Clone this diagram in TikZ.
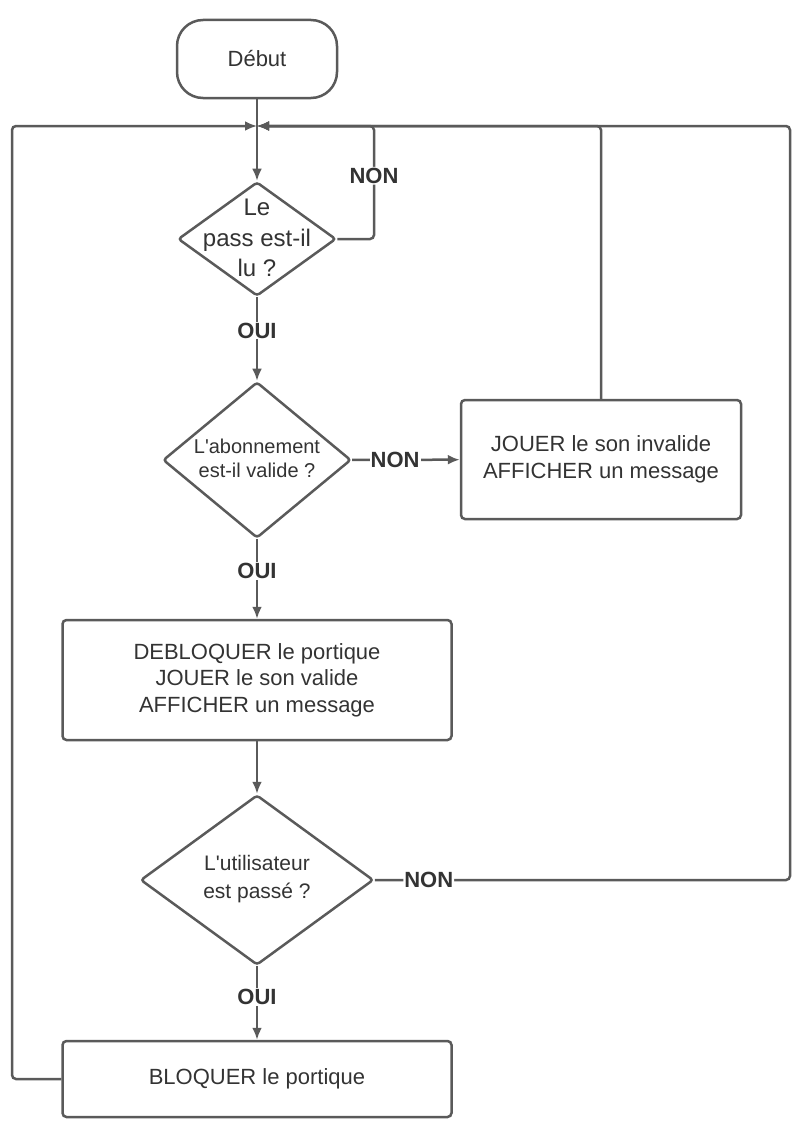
\documentclass[tikz,border=0pt]{standalone}
\usepackage{fontspec}
\setmainfont{Liberation Sans}
\usetikzlibrary{shapes.geometric, arrows.meta}
\definecolor{trait}{HTML}{5A5A5A}
\definecolor{texte}{HTML}{333333}
\begin{document}
\begin{tikzpicture}[x=1pt, y=-1pt, line width=2.5pt, color=trait, text=texte, >={Latex[length=12pt, width=10pt]},
    bloc/.style={draw, rounded corners=4pt, align=center, font=\fontsize{22}{26.5}\selectfont},
    debut/.style={bloc, rounded corners=26pt},
    test/.style={draw, diamond, inner sep=0pt, rounded corners=3pt},
    mots/.style={align=center, inner sep=0pt},
    choix/.style={fill=white, inner sep=1pt, font=\bfseries\fontsize{22}{26}\selectfont}]
        \useasboundingbox (0,0) rectangle (802,1140);

        \node[debut, minimum width=160, minimum height=78] (0) at (257,59) {Début};
        \coordinate (1) at (257,126);
        \node[test, minimum width=158, minimum height=114] (2) at (257,239) {};
        \node[mots, font=\fontsize{24}{30.5}\selectfont] (2t) at (257,238) {Le\\pass est-il\\lu ?};
        \node[test, minimum width=188, minimum height=156] (3) at (257,460) {};
        \node[mots, font=\fontsize{20}{24}\selectfont] (3t) at (257,458) {L\textquotesingle abonnement\\est-il valide ?};
        \node[bloc, minimum width=280, minimum height=119] (4) at (601,459.5) {JOUER le son invalide\\AFFICHER un message};
        \node[bloc, minimum width=389, minimum height=120] (5) at (257,680) {DEBLOQUER le portique\\JOUER le son valide\\AFFICHER un message};
        \node[test, minimum width=233, minimum height=170] (6) at (257,880) {};
        \node[mots, font=\fontsize{21}{28}\selectfont] (6t) at (257,879) {L\textquotesingle utilisateur\\est passé ?};
        \node[bloc, minimum width=389, minimum height=76] (8) at (257,1079) {BLOQUER le portique};

        \coordinate (l) at (12,126);
        \coordinate (r) at (790,126);
        \coordinate (n1) at (374,126);

        \draw[->] (0) -- (2);
        \draw[->] (2) -- node[choix, pos=0.4] {OUI} (3);
        \draw[->] (3) -- node[choix, pos=0.4] {NON} (4);
        \draw[->] (3) -- node[choix, pos=0.4] {OUI} (5);
        \draw[->] (5) -- (6);
        \draw[->] (6) -- node[choix, pos=0.42] {OUI} (8);
        \draw[->, rounded corners=4pt] (4.north) |- (1);
        \draw[->, rounded corners=4pt] (2.east) -| node[choix, pos=0.78] {NON} (n1) -- (1);
        \draw[->, rounded corners=4pt] (6.east) -| node[choix, pos=0.065] {NON} (r) -- (1);
        \draw[->, rounded corners=4pt] (8.west) -| (l) -- (1);
      \end{tikzpicture}
\end{document}
